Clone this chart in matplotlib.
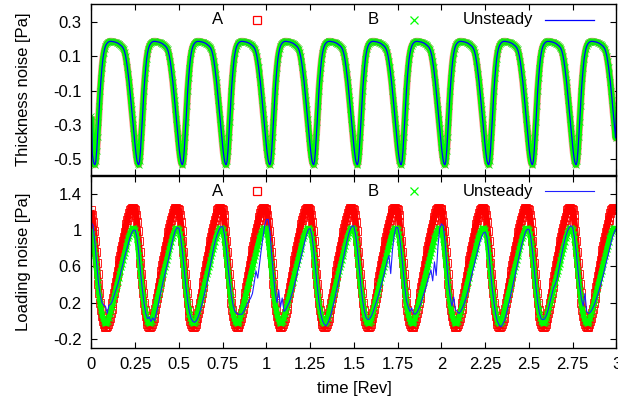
import numpy as np
import matplotlib
matplotlib.use('Agg')
import matplotlib.pyplot as plt

plt.rcParams['font.family'] = ['Liberation Sans', 'DejaVu Sans']
plt.rcParams['font.size'] = 12

# one blade passage (0.25 rev), read every 0.005 rev
thick_period = [-0.425, -0.47, -0.505, -0.525, -0.53, -0.51, -0.45, -0.37, -0.28, -0.19,
                -0.10, -0.03, 0.03, 0.08, 0.115, 0.14, 0.157, 0.168, 0.175, 0.18,
                0.183, 0.185, 0.185, 0.185, 0.184, 0.183, 0.182, 0.181, 0.179, 0.177,
                0.175, 0.172, 0.168, 0.164, 0.160, 0.155, 0.148, 0.138, 0.122, 0.10,
                0.07, 0.035, -0.005, -0.05, -0.10, -0.155, -0.21, -0.265, -0.32, -0.375]
thick_start = -0.25
thick_end = -0.23

load_A_period = [1.22, 1.17, 1.09, 0.99, 0.88, 0.76, 0.64, 0.52, 0.41, 0.30,
                 0.20, 0.12, 0.05, 0.00, -0.04, -0.06, -0.07, -0.07, -0.06, -0.04,
                 -0.01, 0.03, 0.08, 0.13, 0.19, 0.25, 0.31, 0.37, 0.43, 0.49,
                 0.55, 0.61, 0.67, 0.72, 0.78, 0.83, 0.88, 0.93, 0.98, 1.03,
                 1.07, 1.11, 1.15, 1.19, 1.22, 1.24, 1.25, 1.25, 1.24, 1.23]

load_B_period = [1.00, 0.96, 0.90, 0.82, 0.73, 0.63, 0.53, 0.43, 0.34, 0.26,
                 0.18, 0.12, 0.07, 0.03, 0.00, -0.02, -0.03, -0.03, -0.02, 0.00,
                 0.03, 0.07, 0.11, 0.15, 0.19, 0.23, 0.27, 0.31, 0.35, 0.39,
                 0.43, 0.47, 0.51, 0.55, 0.59, 0.63, 0.67, 0.71, 0.75, 0.79,
                 0.83, 0.87, 0.91, 0.94, 0.97, 0.99, 1.01, 1.02, 1.02, 1.01]

# unsteady loading noise, every 0.01 rev, one row per passage
load_unsteady = [
    [1.08, 1.05, 0.85, 0.62, 0.42, 0.28, 0.20, 0.17, 0.16, 0.08, 0.17, 0.18, 0.22, 0.28, 0.34, 0.40, 0.47, 0.55, 0.63, 0.71, 0.78, 0.85, 0.92, 0.97, 1.00],
    [1.00, 0.92, 0.76, 0.55, 0.36, 0.20, 0.08, 0.02, 0.04, -0.01, 0.03, 0.00, 0.08, 0.16, 0.26, 0.35, 0.44, 0.52, 0.60, 0.68, 0.77, 0.86, 0.94, 1.00, 1.03],
    [1.02, 0.92, 0.76, 0.56, 0.37, 0.21, 0.09, 0.02, -0.01, -0.02, 0.00, 0.04, 0.10, 0.17, 0.25, 0.33, 0.42, 0.52, 0.62, 0.72, 0.82, 0.90, 0.96, 1.01, 1.04],
    [1.04, 0.95, 0.80, 0.60, 0.42, 0.27, 0.16, 0.10, 0.08, 0.07, 0.07, 0.07, 0.10, 0.14, 0.18, 0.22, 0.25, 0.30, 0.42, 0.55, 0.47, 0.62, 0.78, 0.92, 1.05],
    [1.12, 1.12, 0.98, 0.72, 0.50, 0.30, 0.20, 0.34, 0.15, 0.25, 0.10, 0.12, 0.16, 0.20, 0.26, 0.32, 0.40, 0.48, 0.56, 0.64, 0.72, 0.80, 0.88, 0.96, 1.01],
    [1.02, 0.94, 0.78, 0.58, 0.38, 0.21, 0.08, 0.00, -0.04, -0.06, -0.03, 0.02, 0.08, 0.16, 0.24, 0.33, 0.42, 0.51, 0.60, 0.70, 0.79, 0.88, 0.96, 1.02, 1.05],
    [1.04, 0.94, 0.78, 0.58, 0.38, 0.22, 0.10, 0.03, 0.01, 0.02, 0.05, 0.10, 0.16, 0.22, 0.28, 0.35, 0.42, 0.50, 0.58, 0.66, 0.72, 0.52, 0.78, 0.95, 1.03],
    [1.03, 0.94, 0.78, 0.58, 0.38, 0.22, 0.15, 0.10, 0.14, 0.08, 0.07, 0.09, 0.13, 0.18, 0.24, 0.30, 0.36, 0.43, 0.50, 0.56, 0.44, 0.65, 0.50, 0.82, 1.02],
    [1.07, 1.05, 0.88, 0.62, 0.42, 0.26, 0.16, 0.26, 0.12, 0.10, 0.08, 0.10, 0.14, 0.19, 0.25, 0.32, 0.40, 0.48, 0.56, 0.64, 0.72, 0.80, 0.87, 0.93, 0.97],
    [0.98, 0.92, 0.76, 0.56, 0.36, 0.20, 0.07, -0.01, -0.05, -0.07, -0.04, 0.00, 0.07, 0.15, 0.23, 0.32, 0.41, 0.50, 0.59, 0.68, 0.77, 0.85, 0.92, 0.98, 1.01],
    [1.01, 0.93, 0.77, 0.57, 0.37, 0.20, 0.08, 0.02, 0.01, 0.02, 0.06, 0.12, 0.20, 0.28, 0.36, 0.40, 0.46, 0.56, 0.66, 0.76, 0.85, 0.93, 0.99, 1.03, 1.05],
    [1.03, 0.92, 0.76, 0.56, 0.38, 0.24, 0.16, 0.30, 0.10, 0.08, 0.09, 0.12, 0.16, 0.21, 0.27, 0.33, 0.40, 0.47, 0.55, 0.63, 0.71, 0.79, 0.87, 0.94, 0.99],
]
load_unsteady_end = 1.02

n_pass = 12
xticks = [0, 0.25, 0.5, 0.75, 1, 1.25, 1.5, 1.75, 2, 2.25, 2.5, 2.75, 3]
xticklabels = ['0', '0.25', '0.5', '0.75', '1', '1.25', '1.5', '1.75', '2', '2.25', '2.5', '2.75', '3']
thick_yticks = [0.3, 0.1, -0.1, -0.3, -0.5]
load_yticks = [1.4, 1, 0.6, 0.2, -0.2]

t = np.linspace(0, 3, n_pass * len(thick_period) + 1)
thick = np.concatenate([[thick_start], np.tile(thick_period, n_pass)[1:], [thick_end]])
loadA = np.append(np.tile(load_A_period, n_pass), load_A_period[0])
loadB = np.append(np.tile(load_B_period, n_pass), load_B_period[0])
t_uns = np.linspace(0, 3, n_pass * 25 + 1)
load_uns = np.append(np.concatenate(load_unsteady), load_unsteady_end)

red = '#ff0000'
green = '#00ff00'
blue = '#0000ff'

fig = plt.figure(figsize=(6.18, 4.07), dpi=100)
ax1 = fig.add_axes([0.148, 0.570, 0.8495, 0.4194])
ax2 = fig.add_axes([0.148, 0.1457, 0.8495, 0.4219])


def key(ax, col_u, lw_u):
    # gnuplot style key: text then sample
    ky = 0.91
    ax.text(0.25, ky, 'A', transform=ax.transAxes, ha='right', va='center')
    ax.plot([0.316], [ky], transform=ax.transAxes, ls='none', marker='s', ms=6,
            mfc='none', mec=red, mew=0.9)
    ax.text(0.547, ky, 'B', transform=ax.transAxes, ha='right', va='center')
    ax.plot([0.614], [ky], transform=ax.transAxes, ls='none', marker='x', ms=6,
            mec=green, mew=0.9)
    ax.text(0.841, ky, 'Unsteady', transform=ax.transAxes, ha='right', va='center')
    ax.plot([0.864, 0.957], [ky, ky], transform=ax.transAxes, color=col_u, lw=lw_u)


def frame(ax):
    ax.set_xlim(0, 3)
    ax.set_xticks(xticks)
    ax.tick_params(direction='in', length=4, width=0.8, top=True, right=True, pad=7)
    for s in ax.spines.values():
        s.set_linewidth(1.0)


# thickness noise: the three curves sit on top of each other
ax1.plot(t, thick, color='#ff9090', lw=5.2, solid_capstyle='butt')
ax1.plot(t, thick, color=green, lw=4.2, solid_capstyle='butt')
ax1.plot(t, thick, ls='none', marker='x', ms=4, mec='#10e810', mew=0.6)
ax1.plot(t, thick, color=blue, lw=0.9)
key(ax1, blue, 0.9)
frame(ax1)
ax1.set_ylim(-0.59, 0.40)
ax1.set_yticks(thick_yticks)
ax1.set_yticklabels(['%g' % v for v in thick_yticks])
ax1.set_xticklabels([])
ax1.set_ylabel('Thickness noise [Pa]')
ax1.yaxis.set_label_coords(-0.115, 0.5)

# loading noise
ax2.plot(t, loadA, color=red, lw=4.6, solid_capstyle='butt')
ax2.plot(t, loadA, ls='none', marker='s', ms=5.5, mfc='none', mec=red, mew=0.6)
ax2.plot(t, loadB, color=green, lw=3.8, solid_capstyle='butt')
ax2.plot(t, loadB, ls='none', marker='x', ms=5, mec=green, mew=0.8)
ax2.plot(t_uns, load_uns, color='#2020ff', lw=0.8)
key(ax2, '#2020ff', 0.8)
frame(ax2)
ax2.set_ylim(-0.3, 1.6)
ax2.set_yticks(load_yticks)
ax2.set_yticklabels(['%g' % v for v in load_yticks])
ax2.set_xticklabels(xticklabels)
ax2.set_ylabel('Loading noise [Pa]')
ax2.yaxis.set_label_coords(-0.115, 0.5)
ax2.set_xlabel('time [Rev]', labelpad=6)

fig.savefig('out.png', dpi=100)
